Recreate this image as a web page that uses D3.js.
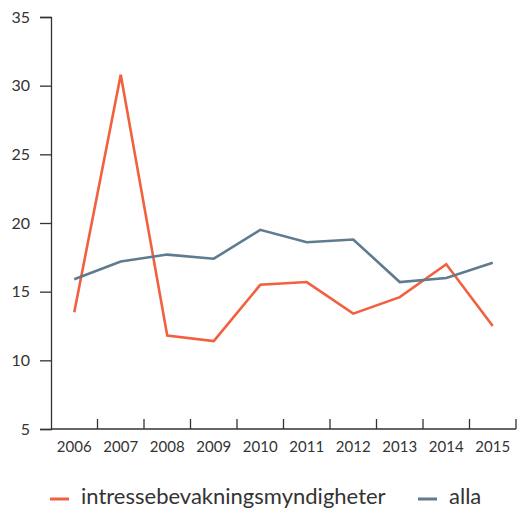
<!DOCTYPE html>
<html>
<head>
<meta charset="utf-8">
<script src="https://cdn.jsdelivr.net/npm/d3@7"></script>
<style>
  body { margin: 0; background: #fff; }
  svg text { font-family: Lato, "Open Sans", sans-serif; fill: #333; }
</style>
</head>
<body>
<svg id="chart" width="520" height="509"></svg>
<script>
// years on the x axis
var years = ['2006', '2007', '2008', '2009', '2010', '2011', '2012', '2013', '2014', '2015'];
// series values
var intresse = [13.5, 30.8, 11.8, 11.4, 15.5, 15.7, 13.4, 14.6, 17.0, 12.5];
var alla = [15.9, 17.2, 17.7, 17.4, 19.5, 18.6, 18.8, 15.7, 16.0, 17.1];
var yTicks = [5, 10, 15, 20, 25, 30, 35];
var seriesNames = ['intressebevakningsmyndigheter', 'alla'];
var colors = ['#f2603f', '#5f7b8f'];

var svg = d3.select('#chart');
var margin = { left: 51, top: 17, right: 4, bottom: 80 };
var width = 520 - margin.left - margin.right;
var height = 509 - margin.top - margin.bottom;

var g = svg.append('g')
  .attr('transform', 'translate(' + margin.left + ',' + margin.top + ')');

var x = d3.scaleBand().domain(years).range([0, width]).padding(0);
var y = d3.scaleLinear().domain([5, 35]).range([height, 0]);

// y axis
var yAxis = g.append('g')
  .call(d3.axisLeft(y).tickValues(yTicks).tickSize(11).tickPadding(10));
yAxis.select('.domain').attr('stroke', '#333').attr('stroke-width', 1.3);
yAxis.selectAll('.tick line').attr('stroke', '#333').attr('stroke-width', 1.3);
yAxis.selectAll('text').style('font-size', '16px').attr('fill', '#333');

// x axis: ticks on band boundaries pointing up
var xAxis = g.append('g').attr('transform', 'translate(0,' + height + ')');
xAxis.append('line')
  .attr('x1', 0).attr('x2', width)
  .attr('stroke', '#333').attr('stroke-width', 1.3);
xAxis.selectAll('.bound')
  .data(years.slice(1).concat(['end']))
  .enter().append('line')
  .attr('class', 'bound')
  .attr('x1', function (d) { return d === 'end' ? width : x(d); })
  .attr('x2', function (d) { return d === 'end' ? width : x(d); })
  .attr('y1', 0).attr('y2', -10)
  .attr('stroke', '#333').attr('stroke-width', 1.3);
xAxis.selectAll('.lbl')
  .data(years)
  .enter().append('text')
  .attr('class', 'lbl')
  .attr('x', function (d) { return x(d) + x.bandwidth() / 2; })
  .attr('y', 23)
  .attr('text-anchor', 'middle')
  .style('font-size', '15px')
  .text(function (d) { return d; });

// lines
var line = d3.line()
  .x(function (d, i) { return x(years[i]) + x.bandwidth() / 2; })
  .y(function (d) { return y(d); });

[intresse, alla].forEach(function (vals, i) {
  g.append('path')
    .datum(vals)
    .attr('d', line)
    .attr('fill', 'none')
    .attr('stroke', colors[i])
    .attr('stroke-width', 2.6)
    .attr('stroke-linejoin', 'miter');
});

// legend (kept just inside the bottom edge)
var legend = svg.append('g').attr('transform', 'translate(0,499)');
var legX = [50, 418];
seriesNames.forEach(function (name, i) {
  legend.append('line')
    .attr('x1', legX[i]).attr('x2', legX[i] + 19)
    .attr('y1', 0).attr('y2', 0)
    .attr('stroke', colors[i]).attr('stroke-width', 3);
  legend.append('text')
    .attr('x', legX[i] + 31)
    .attr('y', 5)
    .style('font-size', '22px')
    .text(name);
});
</script>
</body>
</html>
